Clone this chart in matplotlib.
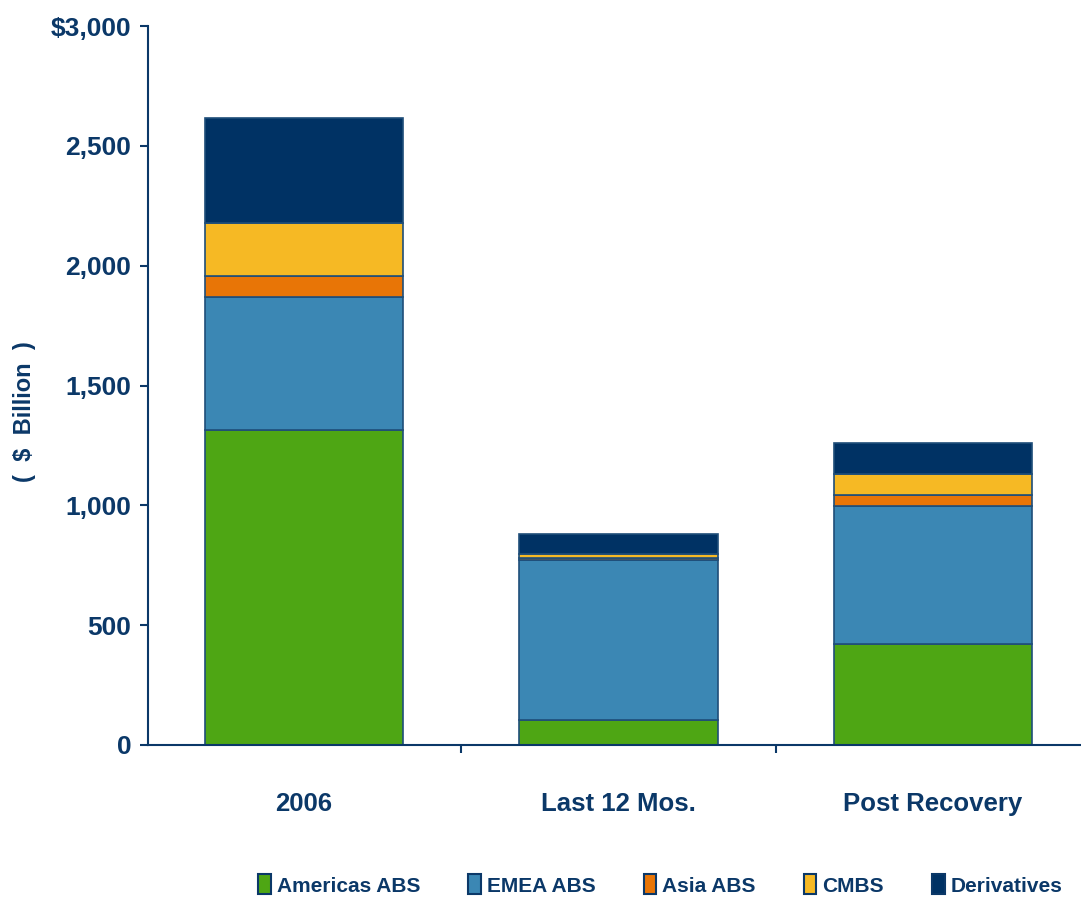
import matplotlib.pyplot as plt
import numpy as np
from matplotlib.ticker import FuncFormatter, FixedLocator

categories = ['2006', 'Last 12 Mos.', 'Post Recovery']
series = ['Americas ABS', 'EMEA ABS', 'Asia ABS', 'CMBS', 'Derivatives']
americas = [1315, 105, 420]
emea = [555, 665, 577]
asia = [88, 12, 46]
cmbs = [220, 15, 88]
derivatives = [438, 83, 129]

colors = ['#4EA614', '#3B87B4', '#E87506', '#F6B924', '#003264']
navy = '#0B3868'

plt.rcParams['font.family'] = ['Liberation Sans', 'DejaVu Sans']
plt.rcParams['font.weight'] = 'bold'

fig = plt.figure(figsize=(10.81, 8.99), dpi=100)
ax = fig.add_axes([148 / 1081, 154 / 899, 932 / 1081, 719 / 899])

x = np.arange(len(categories))
bottom = np.zeros(len(categories))
for name, vals, c in zip(series, [americas, emea, asia, cmbs, derivatives], colors):
    ax.bar(x, vals, width=0.63, bottom=bottom, color=c, edgecolor='#1F4E79',
           linewidth=1.2, label=name)
    bottom += np.array(vals)

ax.set_ylim(0, 3000)
ax.set_xlim(-0.496, 2.467)
ax.set_yticks([0, 500, 1000, 1500, 2000, 2500, 3000])
ax.yaxis.set_major_formatter(FuncFormatter(
    lambda v, p: '${:,.0f}'.format(v) if v == 3000 else '{:,.0f}'.format(v)))

ax.set_xticks(x)
ax.set_xticklabels(categories)
ax.xaxis.set_minor_locator(FixedLocator([0.5, 1.5]))
ax.tick_params(axis='x', which='major', length=0, pad=34, labelsize=18.5, labelcolor=navy)
ax.tick_params(axis='x', which='minor', length=6, width=1.5, color=navy, direction='out')
ax.tick_params(axis='y', length=6, width=1.5, color=navy, labelsize=19,
               labelcolor=navy, pad=6)

for s in ['top', 'right']:
    ax.spines[s].set_visible(False)
for s in ['left', 'bottom']:
    ax.spines[s].set_color(navy)
    ax.spines[s].set_linewidth(1.5)

fig.text(25 / 1081, 1 - 412 / 899, '(  $  Billion  )', rotation=90, ha='center',
         va='center', fontsize=17, color=navy)

handles, labels = ax.get_legend_handles_labels()
leg = fig.legend(handles, labels, ncol=5, loc='center left', bbox_to_anchor=(258 / 1081, 1 - 885 / 899),
                 frameon=False, fontsize=15, handlelength=0.6, handleheight=1.1,
                 handletextpad=0.3, columnspacing=2.3, borderpad=0, borderaxespad=0)
for h in leg.legend_handles:
    h.set_edgecolor(navy)
    h.set_linewidth(1.5)
for t in leg.get_texts():
    t.set_color(navy)

fig.savefig('out.png', dpi=100)
